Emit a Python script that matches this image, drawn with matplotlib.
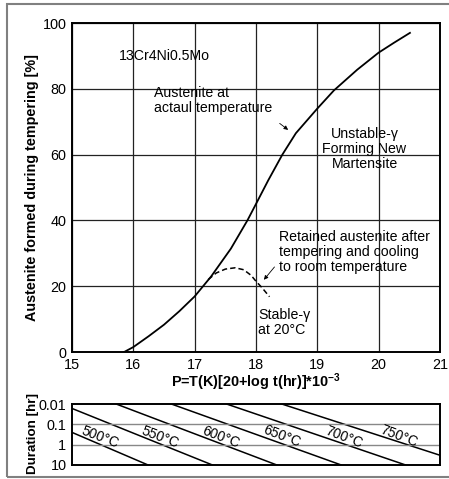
import matplotlib
matplotlib.use("Agg")
import matplotlib.pyplot as plt
from matplotlib.patches import Rectangle

plt.rcParams['font.family'] = ['Liberation Sans', 'DejaVu Sans']
plt.rcParams['mathtext.fontset'] = 'custom'
plt.rcParams['mathtext.rm'] = 'Liberation Sans'
plt.rcParams['mathtext.bf'] = 'Liberation Sans:bold'
plt.rcParams['mathtext.default'] = 'bf'

# austenite formed (solid curve)
p_solid = [15.85, 16.0, 16.25, 16.5, 16.75, 17.0, 17.27, 17.59, 17.86, 18.0, 18.2, 18.43,
           18.65, 19.0, 19.27, 19.65, 20.0, 20.25, 20.51]
a_solid = [0.0, 1.5, 4.8, 8.3, 12.4, 16.9, 23.0, 31.4, 40.0, 45.0, 52.2, 60.0,
           66.5, 74.0, 79.5, 85.8, 91.0, 94.0, 97.0]

# retained austenite after cooling (dashed curve)
p_dashed = [17.22, 17.35, 17.5, 17.66, 17.8, 17.92, 18.0, 18.1, 18.22]
a_dashed = [22.0, 24.0, 25.2, 25.6, 25.0, 23.3, 21.5, 19.5, 16.8]

# iso-temperature lines of the duration panel: P at t=0.01 hr and at t=10 hr
temps = ['500°C', '550°C', '600°C', '650°C', '700°C', '750°C']
p_at_short = [13.92, 14.82, 15.72, 16.62, 17.52, 18.42]
p_at_long = [16.24, 17.29, 18.34, 19.39, 20.44, 21.49]
t_ends = [0.01, 10]
label_p = [15.46, 16.44, 17.43, 18.42, 19.44, 20.33]
label_t = [0.42, 0.42, 0.42, 0.40, 0.42, 0.38]

x_ticks = [15, 16, 17, 18, 19, 20, 21]
y_ticks = [0, 20, 40, 60, 80, 100]
t_ticks = [0.01, 0.1, 1, 10]
t_tick_labels = ['0.01', '0.1', '1', '10']

W, H = 449, 479
fig = plt.figure(figsize=(W / 100, H / 100), dpi=100)

ax = fig.add_axes([72 / W, 1 - 352 / H, 368 / W, 329 / H])
ax.plot(p_solid, a_solid, color='black', lw=1.3, solid_joinstyle='round')
ax.plot(p_dashed, a_dashed, color='black', lw=1.1, dashes=(3.5, 2))
ax.set_xlim(15, 21)
ax.set_ylim(0, 100)
ax.set_xticks(x_ticks)
ax.set_yticks(y_ticks)
ax.tick_params(length=0, labelsize=10.4, pad=4)
ax.grid(True, color='#222222', lw=0.9)
for s in ax.spines.values():
    s.set_linewidth(1.4)
ax.set_xlabel(r'P=T(K)[20+log t(hr)]*10$^{-3}$', fontsize=10.4, fontweight='bold', labelpad=0)
ax.set_ylabel('Austenite formed during tempering [%]', fontsize=10.4, fontweight='bold')
ax.yaxis.set_label_coords(-0.09, 0.5)

fs = 10.2
ax.text(16.5, 90, '13Cr4Ni0.5Mo', fontsize=fs, ha='center', va='center')
ax.text(16.34, 76.5, 'Austenite at\nactaul temperature', fontsize=fs, ha='left', va='center',
        linespacing=1.05)
ax.annotate('', xy=(18.56, 67.0), xytext=(18.35, 70.0),
            arrowprops=dict(arrowstyle='-|>', lw=0.6, color='black', mutation_scale=6))
ax.text(19.77, 61.7, 'Unstable-γ\nForming New\nMartensite', fontsize=fs, ha='center', va='center',
        linespacing=1.05)
ax.text(18.38, 30.4, 'Retained austenite after\ntempering and cooling\nto room temperature',
        fontsize=fs, ha='left', va='center', linespacing=1.05)
ax.annotate('', xy=(18.1, 21.3), xytext=(18.33, 26.5),
            arrowprops=dict(arrowstyle='-|>', lw=0.6, color='black', mutation_scale=6))
ax.text(18.04, 9.0, 'Stable-γ\nat 20°C', fontsize=fs, ha='left', va='center', linespacing=1.05)

# duration panel
bx = fig.add_axes([72 / W, 1 - 465 / H, 368 / W, 61 / H])
for name, p0, p1, lp, lt in zip(temps, p_at_short, p_at_long, label_p, label_t):
    bx.plot([p0, p1], t_ends, color='black', lw=1.1)
    bx.text(lp, lt, name, fontsize=10, rotation=-21, ha='center', va='center',
            rotation_mode='anchor')
bx.set_yscale('log')
bx.set_xlim(15, 21)
bx.set_ylim(10, 0.01)
bx.set_yticks(t_ticks)
bx.set_yticklabels(t_tick_labels)
bx.minorticks_off()
bx.set_xticks([])
bx.tick_params(length=0, labelsize=10.4, pad=4)
for t in t_ticks[1:-1]:
    bx.axhline(t, color='#888888', lw=1.0)
for s in bx.spines.values():
    s.set_linewidth(1.4)
bx.set_ylabel('Duration [hr]', fontsize=9.6, fontweight='bold')
bx.yaxis.set_label_coords(-0.09, 0.52)

# grey frame round the whole figure
fig.patches.append(Rectangle((7 / W, 1 - 477 / H), 1.0, 473 / H, transform=fig.transFigure,
                             fill=False, edgecolor='#808080', lw=1.5))

fig.savefig('out.png', dpi=100)
